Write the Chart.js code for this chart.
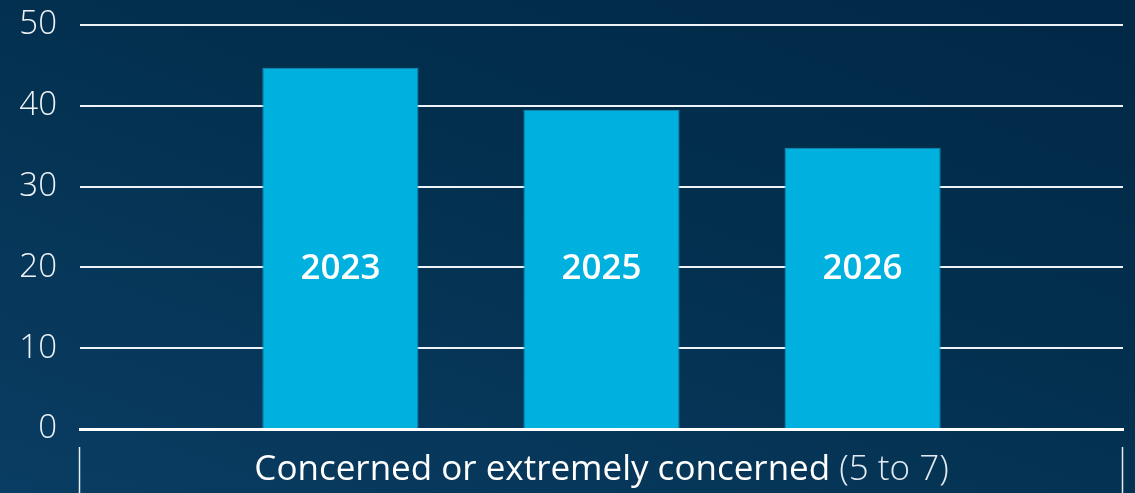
<!DOCTYPE html>
<html>
<head>
<meta charset="utf-8">
<script src="https://cdn.jsdelivr.net/npm/chart.js@4/dist/chart.umd.min.js"></script>
<style>
  html, body { margin: 0; padding: 0; }
  body {
    width: 1135px; height: 493px; overflow: hidden;
    background: linear-gradient(200deg, #012846 0%, #03304f 45%, #0a3d63 100%);
  }
  #wrap { position: relative; width: 1135px; height: 493px; }
</style>
</head>
<body>
<div id="wrap"><canvas id="chart"></canvas></div>
<script>
const categories = ['Concerned or extremely concerned'];
const categoryNotes = ['(5 to 7)'];
const years = ['2023', '2025', '2026'];
const values2023 = [44.7];
const values2025 = [39.5];
const values2026 = [34.8];
const yTicks = [0, 10, 20, 30, 40, 50];

const seriesValues = [values2023, values2025, values2026];

// year labels inside the bars, x-axis caption and the bracket lines
const decorPlugin = {
    id: 'decor',
    afterDatasetsDraw(chart) {
        const ctx = chart.ctx;
        const y = chart.scales.y;
        ctx.save();
        ctx.fillStyle = '#ffffff';
        ctx.textAlign = 'center';
        ctx.textBaseline = 'middle';
        ctx.font = '600 35px "Open Sans"';
        chart.data.datasets.forEach((ds, i) => {
            chart.getDatasetMeta(i).data.forEach(bar => {
                ctx.fillText(ds.label, bar.x, y.getPixelForValue(20) + 2);
            });
        });
        ctx.restore();
    },
    afterDraw(chart) {
        const ctx = chart.ctx;
        const x = chart.scales.x;
        const area = chart.chartArea;
        ctx.save();
        // bracket lines at category edges
        ctx.strokeStyle = '#e6edf3';
        ctx.lineWidth = 1.5;
        [x.left, x.right].forEach(px => {
            ctx.beginPath();
            ctx.moveTo(Math.round(px) - 0.5, area.bottom + 18);
            ctx.lineTo(Math.round(px) - 0.5, chart.height);
            ctx.stroke();
        });
        // category caption: main part + lighter note
        categories.forEach((cat, i) => {
            const cx = x.getPixelForValue(i);
            const main = cat + ' ';
            const note = categoryNotes[i];
            ctx.font = '500 35px "Open Sans"';
            const w1 = ctx.measureText(main).width;
            ctx.font = '300 35px "Open Sans"';
            const w2 = ctx.measureText(note).width;
            const sx = cx - (w1 + w2) / 2;
            ctx.textBaseline = 'alphabetic';
            ctx.textAlign = 'left';
            ctx.fillStyle = '#ffffff';
            ctx.font = '500 35px "Open Sans"';
            ctx.fillText(main, sx, 480);
            ctx.fillStyle = '#e3ebf2';
            ctx.font = '300 35px "Open Sans"';
            ctx.fillText(note, sx + w1, 480);
        });
        ctx.restore();
    }
};

new Chart(document.getElementById('chart'), {
    type: 'bar',
    data: {
        labels: categories,
        datasets: years.map((yr, i) => ({
            label: yr,
            data: seriesValues[i],
            backgroundColor: '#00b1df',
            borderColor: '#1a8fb8',
            borderWidth: 1,
            categoryPercentage: 0.751,
            barPercentage: 0.598
        }))
    },
    options: {
        responsive: true,
        maintainAspectRatio: false,
        animation: false,
        layout: { padding: { top: 25, right: 12, left: 0, bottom: 0 } },
        plugins: {
            legend: { display: false },
            tooltip: { enabled: false }
        },
        scales: {
            x: {
                grid: { display: false },
                border: { color: '#ffffff', width: 3 },
                ticks: { display: false },
                afterFit: (scale) => { scale.height = 64; }
            },
            y: {
                min: 0,
                max: 50,
                afterBuildTicks: (scale) => { scale.ticks = yTicks.map(v => ({ value: v })); },
                afterFit: (scale) => {
                    scale.width = 80;
                    scale.paddingTop = 0;
                    scale.paddingBottom = 0;
                },
                border: { display: false },
                grid: {
                    color: (c) => c.tick && c.tick.value === 0 ? 'rgba(0,0,0,0)' : '#eef3f7',
                    lineWidth: 2,
                    drawTicks: false
                },
                ticks: {
                    color: '#eef3f7',
                    padding: 23,
                    font: { family: '"Open Sans"', size: 33, weight: '300' }
                }
            }
        }
    },
    plugins: [decorPlugin]
});
</script>
</body>
</html>
